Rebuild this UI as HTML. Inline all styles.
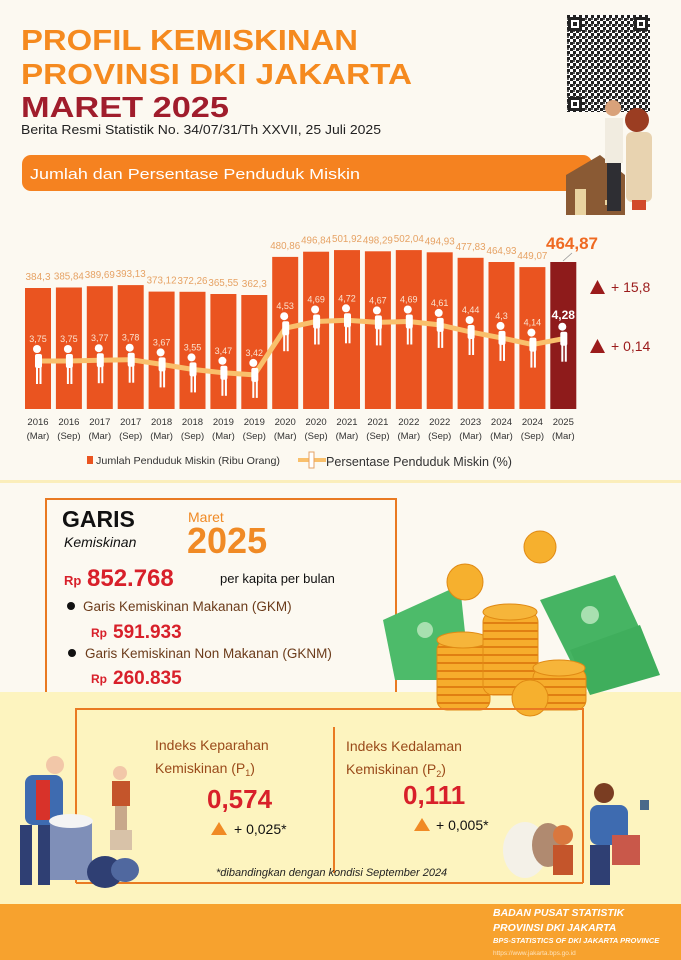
<!DOCTYPE html>
<html><head><meta charset="utf-8"><style>
html,body{margin:0;padding:0;background:#fcf9f1}
svg{display:block}
text{font-family:"Liberation Sans",sans-serif}
</style></head><body>
<svg width="681" height="960" viewBox="0 0 681 960" xmlns="http://www.w3.org/2000/svg">
<defs>
<pattern id="qr" width="6" height="6" patternUnits="userSpaceOnUse">
<rect width="6" height="6" fill="#fff"/><rect x="0" y="0" width="3" height="3" fill="#222"/><rect x="3" y="3" width="3" height="3" fill="#222"/><rect x="3" y="0" width="2" height="2" fill="#555"/>
</pattern>
<pattern id="coin" width="10" height="8" patternUnits="userSpaceOnUse">
<rect width="10" height="8" fill="#f6ad2c"/><rect y="6" width="10" height="2" fill="#e07f12"/>
</pattern>
</defs>
<rect width="681" height="960" fill="#fcf9f1"/>
<!-- Header -->
<text x="21" y="50" font-size="29" font-weight="bold" fill="#f58a1f" textLength="337" lengthAdjust="spacingAndGlyphs">PROFIL KEMISKINAN</text>
<text x="21" y="84" font-size="29" font-weight="bold" fill="#f58a1f" textLength="391" lengthAdjust="spacingAndGlyphs">PROVINSI DKI JAKARTA</text>
<text x="21" y="117" font-size="29" font-weight="bold" fill="#a01d2c" textLength="208" lengthAdjust="spacingAndGlyphs">MARET 2025</text>
<text x="21" y="134" font-size="13" fill="#222" textLength="360" lengthAdjust="spacingAndGlyphs">Berita Resmi Statistik No. 34/07/31/Th XXVII, 25 Juli 2025</text>
<!-- QR -->
<rect x="567" y="15" width="83" height="97" fill="url(#qr)"/>
<g fill="#222">
<rect x="568" y="17" width="14" height="14"/><rect x="634" y="17" width="14" height="14"/><rect x="568" y="97" width="14" height="14"/>
</g>
<rect x="571" y="20" width="8" height="8" fill="#fff"/><rect x="637" y="20" width="8" height="8" fill="#fff"/><rect x="571" y="100" width="8" height="8" fill="#fff"/>
<rect x="573" y="22" width="4" height="4" fill="#222"/><rect x="639" y="22" width="4" height="4" fill="#222"/><rect x="573" y="102" width="4" height="4" fill="#222"/>
<!-- Banner -->
<rect x="22" y="155" width="570" height="36" rx="9" fill="#f58220"/>
<text x="30" y="179" font-size="15" fill="#fff" textLength="330" lengthAdjust="spacingAndGlyphs">Jumlah dan Persentase Penduduk Miskin</text>
<!-- house & people -->
<polygon points="566,175 600,155 625,175 625,215 566,215" fill="#8a5a34"/>
<rect x="575" y="189" width="11" height="26" fill="#e9d3a0"/>
<rect x="605" y="200" width="7" height="5" fill="#e9d3a0"/>
<circle cx="613" cy="108" r="8" fill="#d9a27a"/>
<rect x="605" y="118" width="18" height="45" fill="#f1ece0"/>
<rect x="607" y="163" width="14" height="48" fill="#2e2e33"/>
<circle cx="637" cy="120" r="12" fill="#9b3d22"/>
<rect x="626" y="132" width="26" height="70" rx="6" fill="#e8d3b0"/>
<rect x="632" y="200" width="14" height="10" fill="#d24a2a"/>
<!-- Bars -->
<g fill="#ea5420">
<rect x="25" y="288" width="26" height="121"/>
<rect x="55.9" y="287.5" width="26" height="121.5"/>
<rect x="86.8" y="286.2" width="26" height="122.8"/>
<rect x="117.7" y="285.1" width="26" height="123.9"/>
<rect x="148.6" y="291.6" width="26" height="117.4"/>
<rect x="179.5" y="291.8" width="26" height="117.2"/>
<rect x="210.4" y="294" width="26" height="115"/>
<rect x="241.3" y="295" width="26" height="114"/>
<rect x="272.2" y="256.9" width="26" height="152.1"/>
<rect x="303.1" y="251.7" width="26" height="157.3"/>
<rect x="334" y="250.1" width="26" height="158.9"/>
<rect x="364.9" y="251.3" width="26" height="157.7"/>
<rect x="395.8" y="250.1" width="26" height="158.9"/>
<rect x="426.7" y="252.3" width="26" height="156.7"/>
<rect x="457.6" y="257.8" width="26" height="151.2"/>
<rect x="488.5" y="262" width="26" height="147"/>
<rect x="519.4" y="267.1" width="26" height="141.9"/>
</g>
<rect x="550.3" y="262" width="26" height="147" fill="#8e1b1b"/>
<!-- value labels -->
<g font-size="10" fill="#e6a264" text-anchor="middle">
<text x="38" y="280">384,3</text>
<text x="68.9" y="279.5" textLength="30" lengthAdjust="spacingAndGlyphs">385,84</text>
<text x="99.8" y="278.2" textLength="30" lengthAdjust="spacingAndGlyphs">389,69</text>
<text x="130.7" y="277.1" textLength="30" lengthAdjust="spacingAndGlyphs">393,13</text>
<text x="161.6" y="283.6" textLength="30" lengthAdjust="spacingAndGlyphs">373,12</text>
<text x="192.5" y="283.8" textLength="30" lengthAdjust="spacingAndGlyphs">372,26</text>
<text x="223.4" y="286" textLength="30" lengthAdjust="spacingAndGlyphs">365,55</text>
<text x="254.3" y="287">362,3</text>
<text x="285.2" y="248.9" textLength="30" lengthAdjust="spacingAndGlyphs">480,86</text>
<text x="316.1" y="243.7" textLength="30" lengthAdjust="spacingAndGlyphs">496,84</text>
<text x="347" y="242.1" textLength="30" lengthAdjust="spacingAndGlyphs">501,92</text>
<text x="377.9" y="243.3" textLength="30" lengthAdjust="spacingAndGlyphs">498,29</text>
<text x="408.8" y="242.1" textLength="30" lengthAdjust="spacingAndGlyphs">502,04</text>
<text x="439.7" y="244.3" textLength="30" lengthAdjust="spacingAndGlyphs">494,93</text>
<text x="470.6" y="249.8" textLength="30" lengthAdjust="spacingAndGlyphs">477,83</text>
<text x="501.5" y="254" textLength="30" lengthAdjust="spacingAndGlyphs">464,93</text>
<text x="532.4" y="259.1" textLength="30" lengthAdjust="spacingAndGlyphs">449,07</text>
</g>
<text x="546" y="249" font-size="17" font-weight="bold" fill="#ef6a22">464,87</text>
<line x1="563" y1="261" x2="572" y2="253" stroke="#999" stroke-width="0.8"/>
<!-- percentage line -->
<polyline fill="none" stroke="#f9c06c" stroke-width="5" stroke-linejoin="round" stroke-linecap="round" points="38,361 68.9,361 99.8,360.2 130.7,359.7 161.6,364.4 192.5,369.4 223.4,372.8 254.3,374.9 285.2,328.2 316.1,321.5 347,320.3 377.9,322.4 408.8,321.5 439.7,324.9 470.6,332 501.5,337.9 532.4,344.6 563.3,338.7"/>
<!-- persons -->
<g fill="#fff">
<g transform="translate(38,361)"><circle cx="-1" cy="-12" r="4"/><rect x="-3" y="-7" width="7" height="14" rx="2"/><rect x="-2" y="6" width="2" height="17"/><rect x="1.5" y="6" width="2" height="17"/></g>
<g transform="translate(68.9,361)"><circle cx="-1" cy="-12" r="4"/><rect x="-3" y="-7" width="7" height="14" rx="2"/><rect x="-2" y="6" width="2" height="17"/><rect x="1.5" y="6" width="2" height="17"/></g>
<g transform="translate(99.8,360.2)"><circle cx="-1" cy="-12" r="4"/><rect x="-3" y="-7" width="7" height="14" rx="2"/><rect x="-2" y="6" width="2" height="17"/><rect x="1.5" y="6" width="2" height="17"/></g>
<g transform="translate(130.7,359.7)"><circle cx="-1" cy="-12" r="4"/><rect x="-3" y="-7" width="7" height="14" rx="2"/><rect x="-2" y="6" width="2" height="17"/><rect x="1.5" y="6" width="2" height="17"/></g>
<g transform="translate(161.6,364.4)"><circle cx="-1" cy="-12" r="4"/><rect x="-3" y="-7" width="7" height="14" rx="2"/><rect x="-2" y="6" width="2" height="17"/><rect x="1.5" y="6" width="2" height="17"/></g>
<g transform="translate(192.5,369.4)"><circle cx="-1" cy="-12" r="4"/><rect x="-3" y="-7" width="7" height="14" rx="2"/><rect x="-2" y="6" width="2" height="17"/><rect x="1.5" y="6" width="2" height="17"/></g>
<g transform="translate(223.4,372.8)"><circle cx="-1" cy="-12" r="4"/><rect x="-3" y="-7" width="7" height="14" rx="2"/><rect x="-2" y="6" width="2" height="17"/><rect x="1.5" y="6" width="2" height="17"/></g>
<g transform="translate(254.3,374.9)"><circle cx="-1" cy="-12" r="4"/><rect x="-3" y="-7" width="7" height="14" rx="2"/><rect x="-2" y="6" width="2" height="17"/><rect x="1.5" y="6" width="2" height="17"/></g>
<g transform="translate(285.2,328.2)"><circle cx="-1" cy="-12" r="4"/><rect x="-3" y="-7" width="7" height="14" rx="2"/><rect x="-2" y="6" width="2" height="17"/><rect x="1.5" y="6" width="2" height="17"/></g>
<g transform="translate(316.1,321.5)"><circle cx="-1" cy="-12" r="4"/><rect x="-3" y="-7" width="7" height="14" rx="2"/><rect x="-2" y="6" width="2" height="17"/><rect x="1.5" y="6" width="2" height="17"/></g>
<g transform="translate(347,320.3)"><circle cx="-1" cy="-12" r="4"/><rect x="-3" y="-7" width="7" height="14" rx="2"/><rect x="-2" y="6" width="2" height="17"/><rect x="1.5" y="6" width="2" height="17"/></g>
<g transform="translate(377.9,322.4)"><circle cx="-1" cy="-12" r="4"/><rect x="-3" y="-7" width="7" height="14" rx="2"/><rect x="-2" y="6" width="2" height="17"/><rect x="1.5" y="6" width="2" height="17"/></g>
<g transform="translate(408.8,321.5)"><circle cx="-1" cy="-12" r="4"/><rect x="-3" y="-7" width="7" height="14" rx="2"/><rect x="-2" y="6" width="2" height="17"/><rect x="1.5" y="6" width="2" height="17"/></g>
<g transform="translate(439.7,324.9)"><circle cx="-1" cy="-12" r="4"/><rect x="-3" y="-7" width="7" height="14" rx="2"/><rect x="-2" y="6" width="2" height="17"/><rect x="1.5" y="6" width="2" height="17"/></g>
<g transform="translate(470.6,332)"><circle cx="-1" cy="-12" r="4"/><rect x="-3" y="-7" width="7" height="14" rx="2"/><rect x="-2" y="6" width="2" height="17"/><rect x="1.5" y="6" width="2" height="17"/></g>
<g transform="translate(501.5,337.9)"><circle cx="-1" cy="-12" r="4"/><rect x="-3" y="-7" width="7" height="14" rx="2"/><rect x="-2" y="6" width="2" height="17"/><rect x="1.5" y="6" width="2" height="17"/></g>
<g transform="translate(532.4,344.6)"><circle cx="-1" cy="-12" r="4"/><rect x="-3" y="-7" width="7" height="14" rx="2"/><rect x="-2" y="6" width="2" height="17"/><rect x="1.5" y="6" width="2" height="17"/></g>
<g transform="translate(563.3,338.7)"><circle cx="-1" cy="-12" r="4"/><rect x="-3" y="-7" width="7" height="14" rx="2"/><rect x="-2" y="6" width="2" height="17"/><rect x="1.5" y="6" width="2" height="17"/></g>
</g>
<g font-size="9" fill="#fbe3cf" text-anchor="middle">
<text x="38" y="342">3,75</text><text x="68.9" y="342">3,75</text><text x="99.8" y="341.2">3,77</text><text x="130.7" y="340.7">3,78</text>
<text x="161.6" y="345.4">3,67</text><text x="192.5" y="350.4">3,55</text><text x="223.4" y="353.8">3,47</text><text x="254.3" y="355.9">3,42</text>
<text x="285.2" y="309.2">4,53</text><text x="316.1" y="302.5">4,69</text><text x="347" y="301.3">4,72</text><text x="377.9" y="303.4">4,67</text>
<text x="408.8" y="302.5">4,69</text><text x="439.7" y="305.9">4,61</text><text x="470.6" y="313">4,44</text><text x="501.5" y="318.9">4,3</text><text x="532.4" y="325.6">4,14</text>
</g>
<text x="563.3" y="319" font-size="12" font-weight="bold" fill="#fff" text-anchor="middle">4,28</text>
<!-- change markers -->
<polygon points="590,294 597.5,280 605,294" fill="#9b1c1c"/>
<text x="611" y="292" font-size="14" fill="#9b1c1c">+ 15,8</text>
<polygon points="590,353 597.5,339 605,353" fill="#9b1c1c"/>
<text x="611" y="351" font-size="14" fill="#9b1c1c">+ 0,14</text>
<!-- x labels -->
<g font-size="9.5" fill="#333" text-anchor="middle">
<text x="38" y="425">2016</text><text x="68.9" y="425">2016</text><text x="99.8" y="425">2017</text><text x="130.7" y="425">2017</text><text x="161.6" y="425">2018</text><text x="192.5" y="425">2018</text><text x="223.4" y="425">2019</text><text x="254.3" y="425">2019</text><text x="285.2" y="425">2020</text><text x="316.1" y="425">2020</text><text x="347" y="425">2021</text><text x="377.9" y="425">2021</text><text x="408.8" y="425">2022</text><text x="439.7" y="425">2022</text><text x="470.6" y="425">2023</text><text x="501.5" y="425">2024</text><text x="532.4" y="425">2024</text><text x="563.3" y="425">2025</text>
<text x="38" y="439">(Mar)</text><text x="68.9" y="439">(Sep)</text><text x="99.8" y="439">(Mar)</text><text x="130.7" y="439">(Sep)</text><text x="161.6" y="439">(Mar)</text><text x="192.5" y="439">(Sep)</text><text x="223.4" y="439">(Mar)</text><text x="254.3" y="439">(Sep)</text><text x="285.2" y="439">(Mar)</text><text x="316.1" y="439">(Sep)</text><text x="347" y="439">(Mar)</text><text x="377.9" y="439">(Sep)</text><text x="408.8" y="439">(Mar)</text><text x="439.7" y="439">(Sep)</text><text x="470.6" y="439">(Mar)</text><text x="501.5" y="439">(Mar)</text><text x="532.4" y="439">(Sep)</text><text x="563.3" y="439">(Mar)</text>
</g>
<!-- legend -->
<rect x="87" y="456" width="6" height="8" fill="#ea5420"/>
<text x="96" y="464" font-size="10.5" fill="#333" textLength="184" lengthAdjust="spacingAndGlyphs">Jumlah Penduduk Miskin (Ribu Orang)</text>
<rect x="298" y="458" width="28" height="4" fill="#f9c06c"/>
<rect x="309" y="452" width="5" height="16" fill="#fff" stroke="#e6a264" stroke-width="1"/>
<text x="326" y="466" font-size="12.5" fill="#333" textLength="186" lengthAdjust="spacingAndGlyphs">Persentase Penduduk Miskin (%)</text>
<rect x="0" y="480" width="681" height="3" fill="#fbeebb"/>
<!-- Garis Kemiskinan box -->
<rect x="0" y="692" width="681" height="212" fill="#fdf4bf"/>
<polyline points="46,692 46,499 396,499 396,692" fill="none" stroke="#e97a22" stroke-width="2"/>
<text x="62" y="527" font-size="23" font-weight="bold" fill="#111">GARIS</text>
<text x="64" y="547" font-size="14" font-style="italic" fill="#111">Kemiskinan</text>
<text x="188" y="522" font-size="14" fill="#f08a25">Maret</text>
<text x="187" y="553" font-size="36" font-weight="bold" fill="#f08a25">2025</text>
<text x="64" y="585" font-size="13" font-weight="bold" fill="#d8202a">Rp</text>
<text x="87" y="586" font-size="24" font-weight="bold" fill="#d8202a">852.768</text>
<text x="220" y="583" font-size="13" fill="#111">per kapita per bulan</text>
<circle cx="71" cy="606" r="4" fill="#111"/>
<text x="83" y="611" font-size="13.5" fill="#6b3b1a">Garis Kemiskinan Makanan (GKM)</text>
<text x="91" y="637" font-size="12" font-weight="bold" fill="#d8202a">Rp</text>
<text x="113" y="638" font-size="19" font-weight="bold" fill="#d8202a">591.933</text>
<circle cx="72" cy="653" r="4" fill="#111"/>
<text x="85" y="658" font-size="13.5" fill="#6b3b1a">Garis Kemiskinan Non Makanan (GKNM)</text>
<text x="91" y="683" font-size="12" font-weight="bold" fill="#d8202a">Rp</text>
<text x="113" y="684" font-size="19" font-weight="bold" fill="#d8202a">260.835</text>
<!-- money -->
<polygon points="383,620 460,585 470,680 395,680" fill="#4dbb6a"/>
<polygon points="540,600 615,575 645,640 575,670" fill="#46b463"/>
<polygon points="570,650 640,625 660,675 590,695" fill="#3fae5c"/>
<circle cx="425" cy="630" r="8" fill="#a8e0b0"/><circle cx="590" cy="615" r="9" fill="#a8e0b0"/>
<g stroke="#e08a14" stroke-width="1">
<rect x="437" y="640" width="53" height="70" rx="10" fill="url(#coin)"/>
<ellipse cx="463" cy="640" rx="26" ry="8" fill="#f6b53a"/>
<rect x="483" y="612" width="55" height="83" rx="10" fill="url(#coin)"/>
<ellipse cx="510" cy="612" rx="27" ry="8" fill="#f6b53a"/>
<rect x="533" y="668" width="53" height="42" rx="10" fill="url(#coin)"/>
<ellipse cx="559" cy="668" rx="26" ry="8" fill="#f6b53a"/>
<circle cx="465" cy="582" r="18" fill="#f6b02e"/>
<circle cx="540" cy="547" r="16" fill="#f6b02e"/>
<circle cx="530" cy="698" r="18" fill="#f6b02e"/>
</g>
<!-- inner box -->
<polyline points="76,883 76,709 583,709 583,883" fill="none" stroke="#e97a22" stroke-width="2"/>
<line x1="76" y1="883" x2="583" y2="883" stroke="#e97a22" stroke-width="2"/>
<line x1="334" y1="727" x2="334" y2="873" stroke="#e97a22" stroke-width="2"/>
<text x="155" y="750" font-size="14" fill="#9a4a1a">Indeks Keparahan</text>
<text x="155" y="773" font-size="14" fill="#9a4a1a">Kemiskinan (P<tspan font-size="9" dy="3">1</tspan><tspan dy="-3">)</tspan></text>
<text x="207" y="808" font-size="26" font-weight="bold" fill="#d8202a">0,574</text>
<polygon points="211,835 219,822 227,835" fill="#f08a25"/>
<text x="234" y="834" font-size="14" fill="#111">+ 0,025*</text>
<text x="346" y="751" font-size="14" fill="#9a4a1a">Indeks Kedalaman</text>
<text x="346" y="774" font-size="14" fill="#9a4a1a">Kemiskinan (P<tspan font-size="9" dy="3">2</tspan><tspan dy="-3">)</tspan></text>
<text x="403" y="804" font-size="26" font-weight="bold" fill="#d8202a">0,111</text>
<polygon points="414,831 422,818 430,831" fill="#f08a25"/>
<text x="436" y="830" font-size="14" fill="#111">+ 0,005*</text>
<text x="216" y="876" font-size="11" font-style="italic" fill="#222">*dibandingkan dengan kondisi September 2024</text>
<!-- left people -->
<circle cx="55" cy="765" r="9" fill="#f2c7a8"/>
<rect x="25" y="775" width="38" height="50" rx="8" fill="#3e6bb0"/>
<rect x="36" y="780" width="14" height="40" fill="#d8322a"/>
<rect x="20" y="825" width="12" height="60" fill="#2f3f73"/><rect x="38" y="825" width="12" height="60" fill="#2f3f73"/>
<rect x="50" y="820" width="42" height="60" fill="#7f8fb8"/>
<ellipse cx="71" cy="821" rx="22" ry="7" fill="#f4f4f4"/>
<circle cx="120" cy="773" r="7" fill="#f2c7a8"/>
<rect x="112" y="781" width="18" height="25" fill="#c4552b"/>
<rect x="115" y="806" width="12" height="25" fill="#c8a88a"/>
<rect x="110" y="830" width="22" height="20" fill="#d8c2a8"/>
<ellipse cx="105" cy="872" rx="18" ry="16" fill="#2f3f73"/>
<ellipse cx="125" cy="870" rx="14" ry="12" fill="#50689f"/>
<!-- right people -->
<ellipse cx="525" cy="850" rx="22" ry="28" fill="#f4f1e8"/>
<ellipse cx="548" cy="845" rx="16" ry="22" fill="#b08a70"/>
<circle cx="563" cy="835" r="10" fill="#d9773e"/>
<rect x="553" y="845" width="20" height="30" fill="#c4552b"/>
<circle cx="604" cy="793" r="10" fill="#7a3d22"/>
<rect x="590" y="805" width="38" height="40" rx="8" fill="#3e6bb0"/>
<rect x="612" y="835" width="28" height="30" fill="#c9584a"/>
<rect x="590" y="845" width="20" height="40" fill="#2f3f73"/>
<rect x="640" y="800" width="9" height="10" fill="#4a6a8a"/>
<!-- footer -->
<rect x="0" y="904" width="681" height="56" fill="#f7a22e"/>
<g font-style="italic" font-weight="bold" fill="#fff">
<text x="493" y="916" font-size="10.5">BADAN PUSAT STATISTIK</text>
<text x="493" y="931" font-size="10.5">PROVINSI DKI JAKARTA</text>
<text x="493" y="943" font-size="7.5">BPS-STATISTICS OF DKI JAKARTA PROVINCE</text>
</g>
<text x="493" y="955" font-size="6.5" fill="#fde3bd">https://www.jakarta.bps.go.id</text>
</svg>
</body></html>
